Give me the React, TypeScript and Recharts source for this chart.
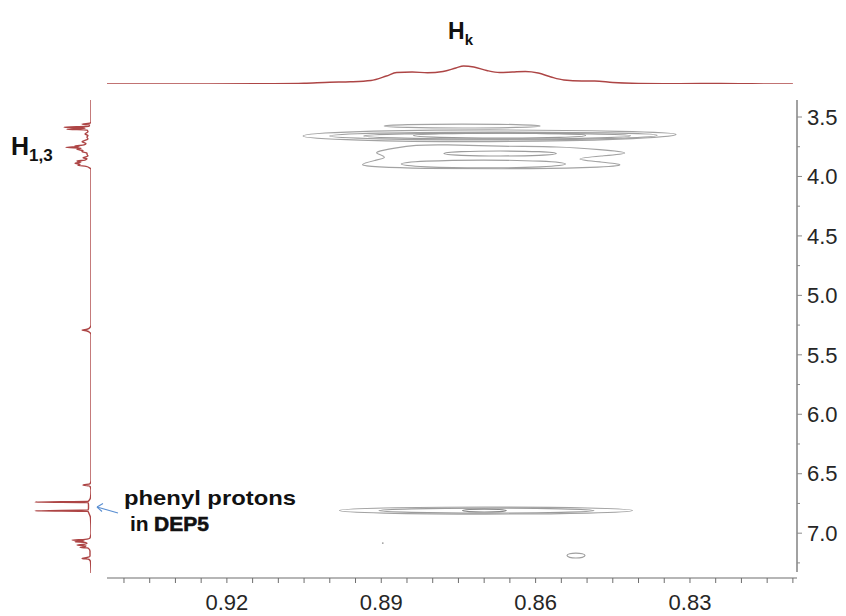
import React from 'react';
import { ComposedChart, Scatter, XAxis, YAxis, ReferenceLine } from 'recharts';

// ---------- axes ----------
const F2_DOMAIN: [number, number] = [0.8092, 0.9433]; // horizontal ppm (drawn reversed)
const F1_DOMAIN: [number, number] = [3.357, 7.377]; // vertical ppm (drawn top-down)
const xTickValues = [0.94, 0.935, 0.93, 0.925, 0.92, 0.915, 0.91, 0.905, 0.9, 0.895, 0.89, 0.885, 0.88, 0.875, 0.87, 0.865, 0.86, 0.855, 0.85, 0.845, 0.84, 0.835, 0.83, 0.825, 0.82, 0.815, 0.81];
const xTickLabels = ['0.92', '0.89', '0.86', '0.83'];
const yTickValues = [3.5, 3.75, 4.0, 4.25, 4.5, 4.75, 5.0, 5.25, 5.5, 5.75, 6.0, 6.25, 6.5, 6.75, 7.0, 7.25];
const yTickLabels = ['3.5', '4.0', '4.5', '5.0', '5.5', '6.0', '6.5', '7.0'];

// ---------- top 1D projection (ppm, intensity) ----------
const topPpm = [0.9433, 0.925, 0.912, 0.905, 0.9, 0.896, 0.892, 0.889, 0.887, 0.884, 0.881, 0.878, 0.8755, 0.874, 0.872, 0.8695, 0.867, 0.8645, 0.862, 0.8595, 0.857, 0.8545, 0.851, 0.8485, 0.845, 0.84, 0.832, 0.824, 0.818, 0.81];
const topInt = [0, 0, 0.3, 0.8, 1.8, 2.2, 3.5, 8, 11.5, 12, 11.2, 12.5, 16, 18, 17, 13.5, 11.5, 12, 12.5, 11, 7, 4, 3, 3, 1.5, 0.6, 0.3, 0.6, 0.2, 0];

// ---------- left 1D projection (ppm, intensity) ----------
const leftPpm = [3.357, 3.54, 3.552, 3.559, 3.566, 3.578, 3.587, 3.591, 3.595, 3.603, 3.61, 3.625, 3.643, 3.655, 3.67, 3.685, 3.708, 3.722, 3.735, 3.744, 3.75, 3.755, 3.762, 3.772, 3.782, 3.792, 3.803, 3.814, 3.828, 3.842, 3.852, 3.862, 3.87, 3.878, 3.889, 3.897, 3.906, 3.915, 3.925, 3.94, 5.25, 5.27, 5.285, 5.292, 5.3, 5.31, 5.33, 6.56, 6.585, 6.595, 6.605, 6.64, 6.7, 6.725, 6.733, 6.738, 6.743, 6.76, 6.79, 6.806, 6.812, 6.817, 6.835, 6.87, 7.0, 7.04, 7.052, 7.058, 7.063, 7.068, 7.072, 7.077, 7.085, 7.095, 7.1, 7.106, 7.114, 7.119, 7.125, 7.15, 7.195, 7.205, 7.212, 7.22, 7.24, 7.335];
const leftInt = [0, 0, 1, 9, 1.5, 2, 27, 8, 6, 24, 4, 3, 6, 3, 4, 3, 9, 5, 7, 16, 12, 25, 10, 14, 8, 9, 4, 4, 3, 8, 4, 6, 14, 10, 16, 11, 13, 5, 2, 0, 0, 1, 4, 9, 4, 1.5, 0, 0, 1, 8, 1, 0, 0.5, 2, 3, 56, 3, 2.5, 2.5, 3, 56, 3, 2, 0.5, 0, 1, 6, 19, 7, 10, 16, 6, 4, 8, 14, 5, 6, 11, 3, 1, 1, 4, 9, 2, 0.5, 0];

// ---------- 2D contours: outline points [F2 ppm, F1 ppm] ----------
const contourA = [[0.8912, 3.576], [0.8859, 3.563], [0.8743, 3.558], [0.8627, 3.563], [0.8573, 3.576], [0.8627, 3.589], [0.8743, 3.594], [0.8859, 3.589]];
const contourB = [[0.9095, 3.66], [0.8966, 3.619], [0.869, 3.604], [0.8413, 3.619], [0.8284, 3.642], [0.8413, 3.69], [0.869, 3.713], [0.8966, 3.698]];
const contourC = [[0.9038, 3.66], [0.8925, 3.633], [0.8682, 3.623], [0.8439, 3.633], [0.8326, 3.65], [0.8439, 3.686], [0.8682, 3.696], [0.8925, 3.686]];
const contourD = [[0.8965, 3.66], [0.8872, 3.64], [0.8675, 3.633], [0.8477, 3.64], [0.8385, 3.655], [0.8477, 3.68], [0.8675, 3.688], [0.8872, 3.68]];
const contourE = [[0.8857, 3.656], [0.8798, 3.639], [0.867, 3.633], [0.8543, 3.639], [0.8483, 3.654], [0.8543, 3.673], [0.867, 3.679], [0.8798, 3.673]];
const contourF = [[0.8949, 3.904], [0.891, 3.862], [0.8887, 3.841], [0.8906, 3.811], [0.8914, 3.794], [0.8873, 3.761], [0.8835, 3.736], [0.878, 3.731], [0.8669, 3.748], [0.8553, 3.748], [0.8475, 3.773], [0.8403, 3.803], [0.8475, 3.828], [0.8533, 3.853], [0.8475, 3.878], [0.8413, 3.904], [0.8494, 3.929], [0.8669, 3.937], [0.8825, 3.933], [0.8912, 3.92]];
const contourG = [[0.8791, 3.807], [0.8752, 3.79], [0.8669, 3.784], [0.8586, 3.79], [0.8547, 3.807], [0.8586, 3.824], [0.8669, 3.83], [0.8752, 3.824]];
const contourH = [[0.888, 3.896], [0.8823, 3.869], [0.8702, 3.859], [0.858, 3.869], [0.8523, 3.896], [0.858, 3.922], [0.8702, 3.932], [0.8823, 3.922]];
const contourI = [[0.9015, 6.81], [0.8914, 6.786], [0.8697, 6.777], [0.8479, 6.786], [0.8378, 6.81], [0.8479, 6.833], [0.8697, 6.842], [0.8914, 6.833]];
const contourJ = [[0.8929, 6.81], [0.8855, 6.793], [0.8696, 6.787], [0.8536, 6.793], [0.8462, 6.81], [0.8536, 6.827], [0.8696, 6.833], [0.8855, 6.827]];
const contourK = [[0.8747, 6.81], [0.8732, 6.8], [0.87, 6.796], [0.8667, 6.8], [0.8652, 6.81], [0.8667, 6.82], [0.87, 6.823], [0.8732, 6.82]];
const contourL = [[0.8541, 7.188], [0.8535, 7.171], [0.8522, 7.165], [0.8508, 7.171], [0.8502, 7.188], [0.8508, 7.205], [0.8522, 7.211], [0.8535, 7.205]];
const noisePoint = [[0.8897, 7.083]];

const contours = [
  { name: 'A', pts: contourA, color: '#a3a3a3' },
  { name: 'B', pts: contourB, color: '#a3a3a3' },
  { name: 'C', pts: contourC, color: '#a0a0a0' },
  { name: 'D', pts: contourD, color: '#9c9c9c' },
  { name: 'E', pts: contourE, color: '#989898' },
  { name: 'F', pts: contourF, color: '#a3a3a3' },
  { name: 'G', pts: contourG, color: '#9c9c9c' },
  { name: 'H', pts: contourH, color: '#a0a0a0' },
  { name: 'I', pts: contourI, color: '#a3a3a3' },
  { name: 'J', pts: contourJ, color: '#9c9c9c' },
  { name: 'K', pts: contourK, color: '#8a8a8a' },
  { name: 'L', pts: contourL, color: '#a0a0a0' },
];

const toXY = (pts: number[][]) => pts.map(([x, y]) => ({ x, y }));
const topData = topPpm.map((p, i) => ({ x: p, y: topInt[i] }));
const leftData = leftPpm.map((p, i) => ({ x: leftInt[i], y: p }));

const FONT = '"Liberation Sans", Arial, sans-serif';
const SPEC_COLOR = '#ad4545';

const NoDot = () => <g />;
const TinyDot = (p: any) => <circle cx={p.cx} cy={p.cy} r={0.9} fill="#9a9a9a" />;

const YTick = (props: any) => {
  const { x, y, payload } = props;
  const v = payload.value as number;
  const major = Math.abs(v * 2 - Math.round(v * 2)) < 1e-6;
  const x0 = x - 10;
  const label = v.toFixed(1);
  return (
    <g>
      <line x1={x0} y1={y} x2={x0 + (major ? 5 : 3)} y2={y} stroke="#8a8a8a" strokeWidth={1} />
      {major && yTickLabels.includes(label) ? (
        <text x={x} y={y} dy="0.35em" textAnchor="start" fontSize={22} fontFamily={FONT} fill="#262626">
          {label}
        </text>
      ) : null}
    </g>
  );
};

const XTick = (props: any) => {
  const { x, y, payload } = props;
  const v = payload.value as number;
  const s = v.toFixed(2);
  if (!(xTickLabels.includes(s) && Math.abs(v - Number(s)) < 1e-6)) return <g />;
  return (
    <text x={x} y={y} dy={23} textAnchor="middle" fontSize={22} fontFamily={FONT} fill="#262626">
      {s}
    </text>
  );
};

export default function App() {
  return (
    <div style={{ position: 'absolute', left: 0, top: 0, width: 846, height: 616, background: '#fff' }}>
      {/* top projection */}
      <div style={{ position: 'absolute', left: 0, top: 0 }}>
        <ComposedChart width={846} height={100} margin={{ top: 54, right: 49, bottom: 16, left: 107 }}>
          <XAxis type="number" dataKey="x" domain={F2_DOMAIN} reversed allowDataOverflow hide />
          <YAxis type="number" dataKey="y" domain={[0, 30]} allowDataOverflow hide />
          <Scatter data={topData} shape={NoDot} line={{ stroke: SPEC_COLOR, strokeWidth: 1.4, fill: 'none' }} lineType="joint" lineJointType="monotoneX" isAnimationActive={false} />
        </ComposedChart>
      </div>

      {/* left projection */}
      <div style={{ position: 'absolute', left: 0, top: 0 }}>
        <ComposedChart width={120} height={616} margin={{ top: 100, right: 29, bottom: 38, left: 21 }}>
          <XAxis type="number" dataKey="x" domain={[0, 70]} reversed allowDataOverflow hide />
          <YAxis type="number" dataKey="y" domain={F1_DOMAIN} reversed allowDataOverflow hide />
          <Scatter data={leftData} shape={NoDot} line={{ stroke: SPEC_COLOR, strokeWidth: 1.4, fill: 'none' }} lineType="joint" lineJointType="monotoneY" isAnimationActive={false} />
        </ComposedChart>
      </div>

      {/* main 2D map */}
      <div style={{ position: 'absolute', left: 0, top: 0 }}>
        <ComposedChart width={846} height={616} margin={{ top: 100, right: 4, bottom: 8, left: 107 }}>
          <XAxis
            type="number"
            dataKey="x"
            domain={F2_DOMAIN}
            reversed
            allowDataOverflow
            ticks={xTickValues}
            interval={0}
            height={30}
            tickSize={5}
            tickMargin={4}
            axisLine={{ stroke: '#6e6e6e', strokeWidth: 1.2 }}
            tickLine={{ stroke: '#6e6e6e' }}
            tick={XTick}
          />
          <YAxis
            type="number"
            dataKey="y"
            orientation="right"
            domain={F1_DOMAIN}
            reversed
            allowDataOverflow
            ticks={yTickValues}
            interval={0}
            width={45}
            tickSize={5}
            tickMargin={5}
            axisLine={false}
            tickLine={false}
            tick={YTick}
          />
          <ReferenceLine
            segment={[{ x: 0.8092, y: 3.357 }, { x: 0.8092, y: 7.327 }]}
            stroke="#8a8a8a"
            strokeWidth={1.6}
            ifOverflow="visible"
          />
          {contours.map((c) => (
            <Scatter
              key={c.name}
              data={toXY(c.pts)}
              shape={NoDot}
              line={{ stroke: c.color, strokeWidth: 1.2, fill: 'none' }}
              lineType="joint"
              lineJointType="basisClosed"
              isAnimationActive={false}
            />
          ))}
          <Scatter data={toXY(noisePoint)} shape={TinyDot} isAnimationActive={false} />
        </ComposedChart>
      </div>

      {/* annotations */}
      <svg width={846} height={616} style={{ position: 'absolute', left: 0, top: 0, pointerEvents: 'none' }}>
        <text x={448} y={39} fontSize={23} fontWeight="bold" fontFamily={FONT} fill="#111">
          H<tspan fontSize={15} dy={6}>k</tspan>
        </text>
        <text x={11} y={155} fontSize={25} fontWeight="bold" fontFamily={FONT} fill="#111">
          H<tspan fontSize={17} dy={6}>1,3</tspan>
        </text>
        <text x={124} y={505} fontSize={21} fontWeight="bold" fontFamily={FONT} fill="#111" textLength={172} lengthAdjust="spacingAndGlyphs">
          phenyl protons
        </text>
        <text x={130} y={531} fontSize={21} fontWeight="bold" fontFamily={FONT} fill="#111">
          in
        </text>
        <text x={154} y={531} fontSize={21} fontWeight="bold" fontFamily={FONT} fill="#111" stroke="#111" strokeWidth={0.6}>
          DEP5
        </text>
        <line x1={118} y1={513} x2={97} y2={507} stroke="#5a8fd2" strokeWidth={1.1} />
        <line x1={97} y1={507} x2={103} y2={503.5} stroke="#5a8fd2" strokeWidth={1.1} />
        <line x1={97} y1={507} x2={102} y2={511.5} stroke="#5a8fd2" strokeWidth={1.1} />
      </svg>
    </div>
  );
}
